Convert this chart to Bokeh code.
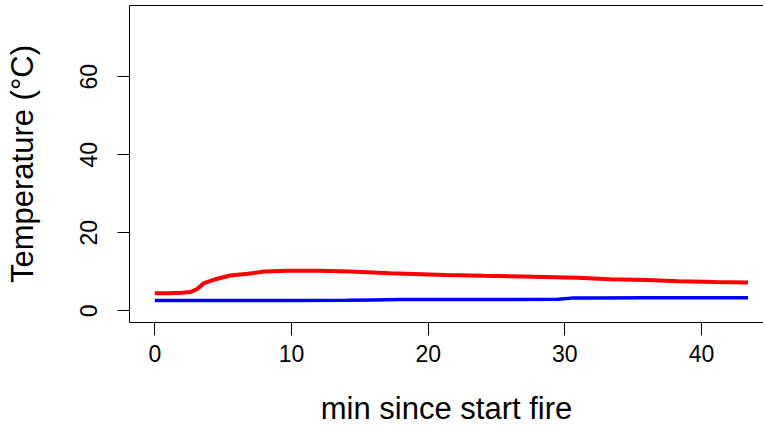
from bokeh.plotting import figure
from bokeh.models import LinearAxis, FixedTicker, Range1d
from bokeh.embed import file_html
from bokeh.resources import INLINE

# data
minutes_red = [0, 1, 2, 2.6, 3.1, 3.6, 4.3, 5.5, 6.8, 8.0, 9.7, 12, 14.3, 17.2, 21.3, 24, 26.9, 30.9, 33.3, 36, 38.3, 41, 43.4]
temp_red = [4.5, 4.5, 4.6, 4.8, 5.6, 7.1, 7.95, 9.05, 9.5, 10.05, 10.3, 10.3, 10.1, 9.65, 9.2, 9.0, 8.8, 8.45, 8.1, 7.9, 7.6, 7.4, 7.25]
minutes_blue = [0, 5, 10, 14, 16, 18, 22, 26, 29.5, 30.5, 32, 36, 40, 43.4]
temp_blue = [2.64, 2.64, 2.64, 2.7, 2.8, 2.9, 2.9, 2.9, 2.95, 3.25, 3.3, 3.33, 3.33, 3.33]
x_ticks = [0, 10, 20, 30, 40]
y_ticks = [0, 20, 40, 60]
x_title = "min since start fire"
y_title = "Temperature (°C)"

FONT = "Liberation Sans"

p = figure(width=763, height=429, output_backend="svg", toolbar_location=None,
           x_range=Range1d(-1.85, 44.53), y_range=Range1d(-3.0, 78.28),
           min_border_left=129, min_border_right=0, min_border_top=5, min_border_bottom=107,
           x_axis_label=x_title, y_axis_label=y_title)
p.outline_line_color = None
p.grid.visible = False
p.background_fill_color = "white"
p.border_fill_color = "white"

p.line(minutes_red, temp_red, line_color="#ff0000", line_width=4)
p.line(minutes_blue, temp_blue, line_color="#0000ff", line_width=3.5)

for ax in (p.xaxis[0], p.yaxis[0]):
    ax.axis_line_color = "black"
    ax.major_tick_line_color = "black"
    ax.minor_tick_line_color = None
    ax.major_tick_in = 0
    ax.major_label_text_font = FONT
    ax.major_label_text_font_size = "23px"
    ax.major_label_text_color = "black"
    ax.axis_label_text_font = FONT
    ax.axis_label_text_font_size = "31px"
    ax.axis_label_text_font_style = "normal"
    ax.axis_label_text_color = "black"

p.xaxis[0].ticker = FixedTicker(ticks=x_ticks)
p.yaxis[0].ticker = FixedTicker(ticks=y_ticks)
p.xaxis[0].major_tick_out = 13
p.yaxis[0].major_tick_out = 12
p.xaxis[0].major_label_standoff = 9
p.xaxis[0].axis_label_standoff = 26
p.yaxis[0].major_label_standoff = 20
p.yaxis[0].axis_label_standoff = 38
p.yaxis[0].major_label_orientation = "vertical"

top = LinearAxis(ticker=FixedTicker(ticks=[]), axis_line_color="black",
                 major_tick_line_color=None, minor_tick_line_color=None,
                 major_label_text_font_size="0px")
p.add_layout(top, "above")

open("out.html", "w").write(file_html(p, INLINE))
